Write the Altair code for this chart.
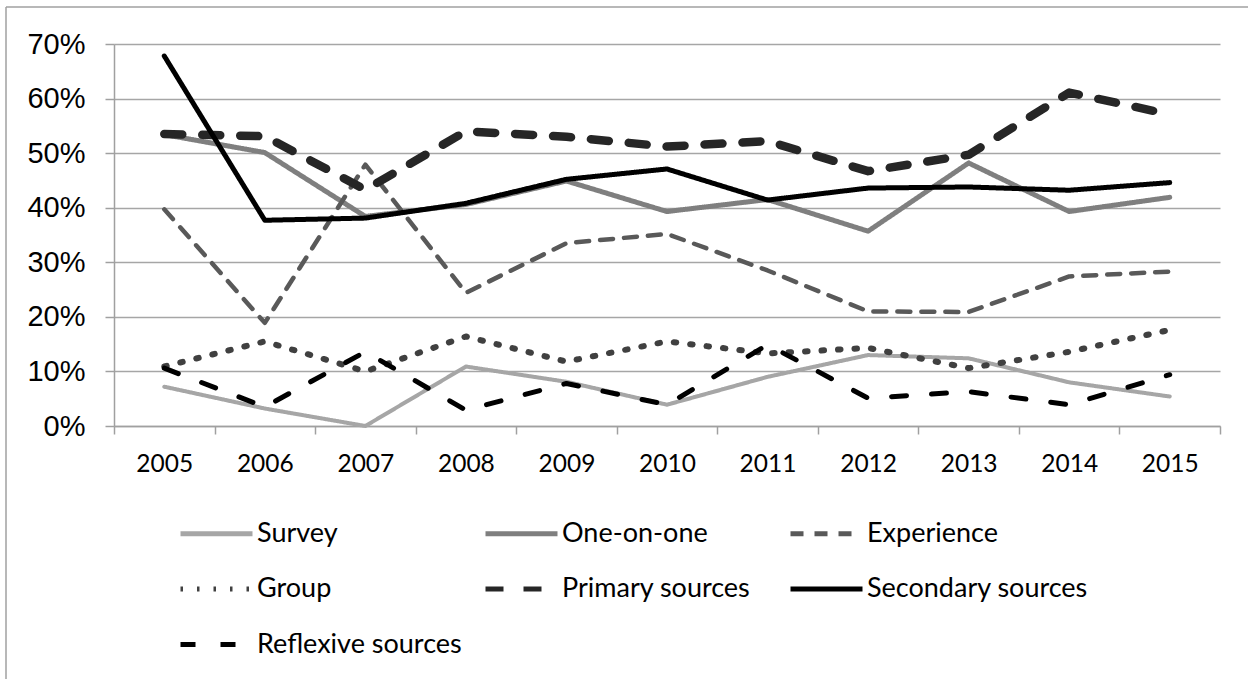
import altair as alt
import pandas as pd

# Share of items by source type, per year (percent)
years = [2005, 2006, 2007, 2008, 2009, 2010, 2011, 2012, 2013, 2014, 2015]
series_names = ["Survey", "One-on-one", "Experience", "Group",
                "Primary sources", "Secondary sources", "Reflexive sources"]
survey = [7.2, 3.2, 0.0, 10.9, 8.1, 3.9, 9.0, 13.0, 12.4, 8.0, 5.4]
one_on_one = [53.4, 50.1, 38.4, 40.6, 44.9, 39.3, 41.5, 35.7, 48.2, 39.3, 41.9]
experience = [39.7, 18.9, 47.9, 24.4, 33.5, 35.2, 28.5, 21.0, 20.9, 27.4, 28.3]
group = [10.9, 15.5, 10.0, 16.4, 11.8, 15.5, 13.3, 14.3, 10.6, 13.6, 17.6]
primary = [53.5, 53.1, 43.3, 54.0, 53.0, 51.2, 52.2, 46.7, 49.7, 61.1, 57.1]
secondary = [67.8, 37.7, 38.1, 40.8, 45.2, 47.1, 41.4, 43.6, 43.8, 43.2, 44.6]
reflexive = [10.6, 3.5, 13.6, 2.9, 7.8, 3.9, 14.9, 5.1, 6.3, 3.9, 9.4]

all_values = [survey, one_on_one, experience, group, primary, secondary, reflexive]

# Line styling per series
colors = ["#A6A6A6", "#7F7F7F", "#595959", "#404040", "#262626", "#000000", "#000000"]
widths = [4, 5, 4.5, 6, 8.5, 5, 5]
dashes = [[1, 0], [1, 0], [13, 11], [2.5, 14], [18, 20], [1, 0], [15, 25]]

rows = []
for name, w, vals in zip(series_names, widths, all_values):
    for yr, v in zip(years, vals):
        rows.append({"series": name, "width": w, "year": yr, "share": v / 100})
df = pd.DataFrame(rows)

# Ticks sit between the years, labels on the years
half_years = [years[0] - 0.5] + [y + 0.5 for y in years]
axis_values = sorted(half_years + years)

legend = alt.Legend(
    title=None,
    orient="none",
    legendX=64,
    legendY=451,
    direction="horizontal",
    columns=3,
    gridAlign="all",
    columnPadding=-3,
    rowPadding=3.5,
    symbolType="stroke",
    symbolSize=5184,
    symbolStrokeWidth=5,
    labelFont="Lato",
    labelFontSize=27,
    labelColor="#000000",
    labelOffset=2,
    labelLimit=400,
)

lines = alt.Chart(df).mark_line(strokeCap="round", strokeJoin="round").encode(
    x=alt.X(
        "year:Q",
        scale=alt.Scale(domain=[years[0] - 0.5, years[-1] + 0.5], nice=False, zero=False),
        axis=alt.Axis(
            title=None,
            values=axis_values,
            grid=False,
            domainColor="#A0A0A0",
            domainWidth=1.5,
            tickColor="#A0A0A0",
            tickWidth=1.5,
            tickSize=8,
            tickOpacity={"condition": {"test": "datum.value % 1 == 0", "value": 0}, "value": 1},
            labelExpr="datum.value % 1 == 0 ? format(datum.value, 'd') : ''",
            labelFont="Lato",
            labelFontSize=24.5,
            labelColor="#000000",
            labelPadding=18,
            labelFlush=False,
            labelOverlap=False,
        ),
    ),
    y=alt.Y(
        "share:Q",
        scale=alt.Scale(domain=[0, 0.7], nice=False),
        axis=alt.Axis(
            title=None,
            values=[0, 0.1, 0.2, 0.3, 0.4, 0.5, 0.6, 0.7],
            format=".0%",
            grid=True,
            gridColor="#A6A6A6",
            gridWidth=1.3,
            domainColor="#A0A0A0",
            domainWidth=1.5,
            tickColor="#A0A0A0",
            tickWidth=1.5,
            tickSize=9,
            labelFont="Liberation Sans",
            labelFontSize=29,
            labelColor="#000000",
            labelPadding=20,
        ),
    ),
    color=alt.Color("series:N", sort=series_names,
                    scale=alt.Scale(domain=series_names, range=colors), legend=legend),
    strokeDash=alt.StrokeDash("series:N", sort=series_names,
                              scale=alt.Scale(domain=series_names, range=dashes), legend=legend),
    strokeWidth=alt.StrokeWidth("width:Q", scale=None, legend=None),
    detail="series:N",
    order="year:Q",
)

# Chart-area frame (left and top edges)
frame_df = pd.DataFrame({"edge": ["left", "top"]})
frame_left = alt.Chart(frame_df[frame_df.edge == "left"]).mark_rule(
    color="#A0A0A0", strokeWidth=1.5
).encode(x=alt.value(-108), y=alt.value(-37), y2=alt.value(700))
frame_top = alt.Chart(frame_df[frame_df.edge == "top"]).mark_rule(
    color="#A0A0A0", strokeWidth=1.5
).encode(x=alt.value(-108), x2=alt.value(1200), y=alt.value(-37))

chart = alt.layer(frame_left, frame_top, lines).properties(
    width=1106,
    height=382,
    padding={"left": 114, "top": 44, "right": 28, "bottom": 253},
    autosize=alt.AutoSizeParams(type="none"),
    background="#FFFFFF",
).configure_view(stroke=None)

chart.save("out.html", embed_options={"renderer": "svg", "actions": False})
